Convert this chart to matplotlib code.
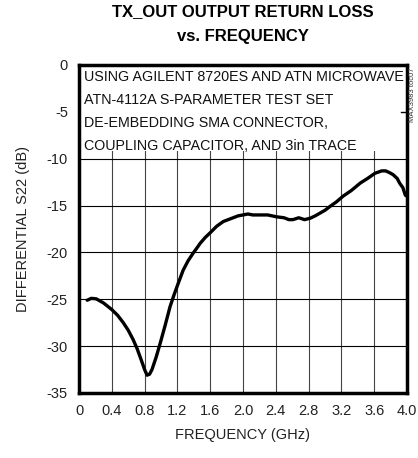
import matplotlib.pyplot as plt
from matplotlib.patches import Rectangle

# trace (frequency in GHz, S22 in dB)
freq = [0.10, 0.15, 0.21, 0.30, 0.40, 0.47, 0.54, 0.60, 0.66, 0.71, 0.76, 0.80, 0.83,
        0.86, 0.89, 0.94, 0.99, 1.05, 1.11, 1.16, 1.21, 1.27, 1.33, 1.39, 1.44, 1.48,
        1.54, 1.60, 1.68, 1.76, 1.82, 1.88, 1.94, 2.00, 2.06, 2.12, 2.21, 2.30, 2.41,
        2.50, 2.56, 2.61, 2.68, 2.75, 2.82, 2.88, 2.94, 3.00, 3.06, 3.14, 3.22, 3.32,
        3.43, 3.52, 3.61, 3.66, 3.69, 3.74, 3.79, 3.83, 3.88, 3.91, 3.95, 3.98, 4.00]
s22 = [-25.1, -24.9, -24.95, -25.4, -26.1, -26.7, -27.5, -28.3, -29.3, -30.3, -31.5, -32.5, -33.1,
       -33.0, -32.5, -31.2, -29.7, -27.8, -25.8, -24.5, -23.3, -21.9, -20.9, -20.1, -19.5, -19.0,
       -18.4, -17.9, -17.2, -16.7, -16.5, -16.3, -16.1, -16.0, -15.9, -16.0, -16.0, -16.0, -16.2,
       -16.3, -16.5, -16.5, -16.3, -16.5, -16.35, -16.1, -15.8, -15.5, -15.1, -14.6, -14.0, -13.4,
       -12.6, -12.1, -11.55, -11.4, -11.3, -11.3, -11.5, -11.7, -12.1, -12.6, -13.1, -13.9, -14.0]

xticks = [0, 0.4, 0.8, 1.2, 1.6, 2.0, 2.4, 2.8, 3.2, 3.6, 4.0]
xticklabels = ['0', '0.4', '0.8', '1.2', '1.6', '2.0', '2.4', '2.8', '3.2', '3.6', '4.0']
yticks = [0, -5, -10, -15, -20, -25, -30, -35]
note = ['USING AGILENT 8720ES AND ATN MICROWAVE',
        'ATN-4112A S-PARAMETER TEST SET',
        'DE-EMBEDDING SMA CONNECTOR,',
        'COUPLING CAPACITOR, AND 3in TRACE']

plt.rcParams['font.family'] = ['Liberation Sans', 'DejaVu Sans']
plt.rcParams['axes.unicode_minus'] = False

fig = plt.figure(figsize=(4.18, 4.58), dpi=100)
ax = fig.add_axes([79 / 418, 65 / 458, 328 / 418, 328 / 458])

ax.set_xlim(0, 4.0)
ax.set_ylim(-35, 0)
ax.set_xticks(xticks)
ax.set_xticklabels(xticklabels)
ax.set_yticks(yticks)
ax.tick_params(length=0, labelsize=10.5, pad=8, colors='#222222')

for x in xticks[1:-1]:
    ax.axvline(x, color='#444444', lw=0.8, zorder=1)
for y in yticks[1:-1]:
    ax.axhline(y, color='black', lw=0.8, zorder=1)

# white area behind the note text
ax.add_patch(Rectangle((0, -9.2), 4.0, 9.2, facecolor='white', edgecolor='none', zorder=2))
ax.plot([3.93, 4.0], [-5, -5], color='black', lw=1.0, zorder=3)

for i, line in enumerate(note):
    ax.text(0.06, -1.25 - 2.45 * i, line, fontsize=10.3, va='center', ha='left',
            color='#111111', zorder=3)

ax.plot(freq, s22, color='black', lw=2.4, zorder=4, solid_capstyle='round')

for sp in ax.spines.values():
    sp.set_linewidth(2.5)
    sp.set_zorder(5)

ax.set_xlabel('FREQUENCY (GHz)', fontsize=10.5, labelpad=7, color='#222222')
ax.set_ylabel('DIFFERENTIAL S22 (dB)', fontsize=10.5, labelpad=12, color='#222222')

fig.text(243 / 418, 1 - 12 / 458, 'TX_OUT OUTPUT RETURN LOSS', ha='center', va='center',
         fontsize=12, fontweight='bold')
fig.text(243 / 418, 1 - 37 / 458, 'vs. FREQUENCY', ha='center', va='center',
         fontsize=12, fontweight='bold')
fig.text(413 / 418, 1 - 95 / 458, 'MAX3983 toc07', rotation=90, ha='center', va='center',
         fontsize=5.5, color='#333333')

fig.savefig('out.png', dpi=100)
